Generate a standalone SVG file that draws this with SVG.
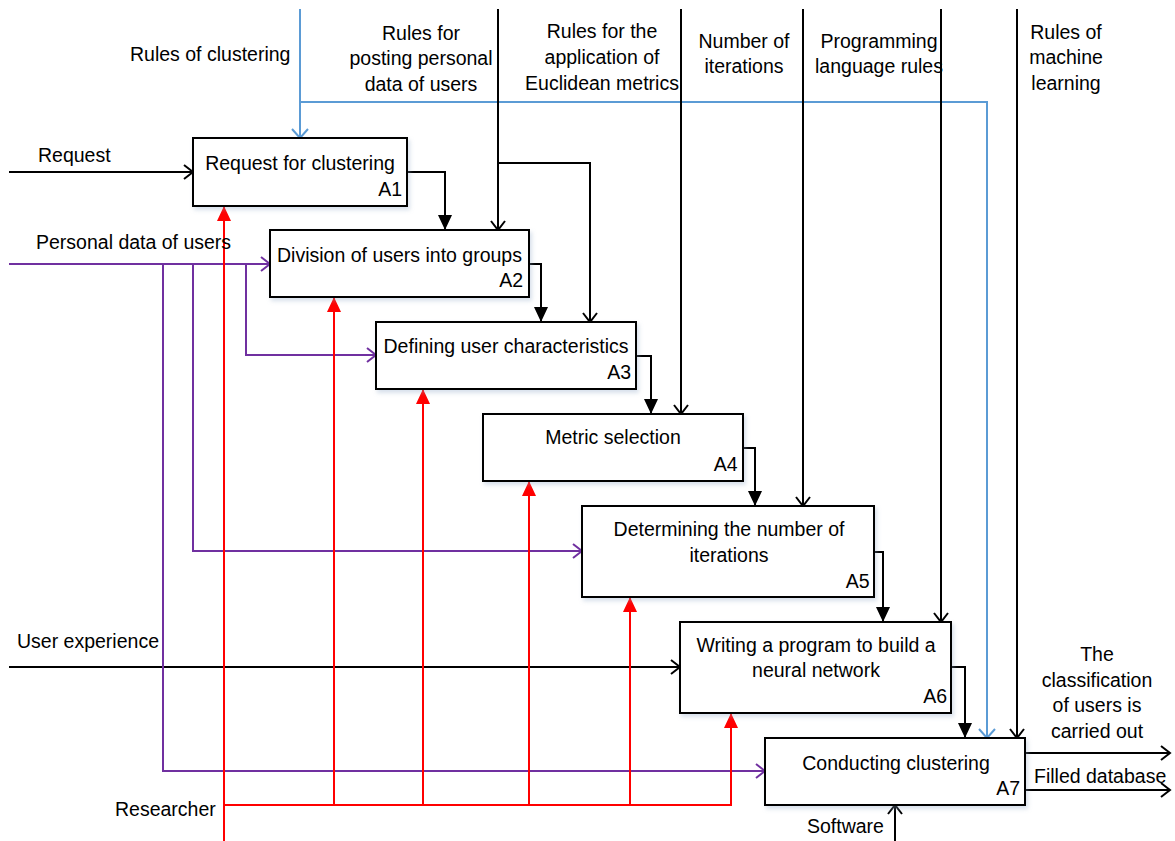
<svg xmlns="http://www.w3.org/2000/svg" width="1175" height="841" viewBox="0 0 1175 841">
<style>
text{font-family:"Liberation Sans",Arial,sans-serif;font-size:19.5px;fill:#000}
.c{text-anchor:middle}
.e{text-anchor:end}
.box{fill:#fff;stroke:#000;stroke-width:2;filter:url(#sh)}
.k{fill:none;stroke:#000;stroke-width:2}
.r{fill:none;stroke:#f00;stroke-width:2}
.p{fill:none;stroke:#7030a0;stroke-width:2}
.b{fill:none;stroke:#5b9bd5;stroke-width:2}
</style>
<defs>
<filter id="sh" x="-10%" y="-10%" width="130%" height="130%">
<feDropShadow dx="2" dy="3" stdDeviation="2" flood-color="#8fa6c6" flood-opacity="0.35"/>
</filter>
<marker id="fk" markerUnits="userSpaceOnUse" viewBox="0 0 15 14" refX="15" refY="7" markerWidth="15" markerHeight="14" orient="auto"><path d="M0,0 L15,7 L0,14 Z" fill="#000"/></marker>
<marker id="fr" markerUnits="userSpaceOnUse" viewBox="0 0 15 14" refX="15" refY="7" markerWidth="15" markerHeight="14" orient="auto"><path d="M0,0 L15,7 L0,14 Z" fill="#f00"/></marker>
<marker id="ok" markerUnits="userSpaceOnUse" viewBox="-1 -1 12 16" refX="9" refY="7" markerWidth="12" markerHeight="16" orient="auto"><path d="M0,0 L9,7 L0,14" fill="none" stroke="#000" stroke-width="2"/></marker>
<marker id="op" markerUnits="userSpaceOnUse" viewBox="-1 -1 12 16" refX="9" refY="7" markerWidth="12" markerHeight="16" orient="auto"><path d="M0,0 L9,7 L0,14" fill="none" stroke="#7030a0" stroke-width="2"/></marker>
<marker id="ob" markerUnits="userSpaceOnUse" viewBox="-1 -1 12 18" refX="9" refY="8" markerWidth="12" markerHeight="18" orient="auto"><path d="M0,0 L9,8 L0,16" fill="none" stroke="#5b9bd5" stroke-width="2"/></marker>
</defs>
<rect width="1175" height="841" fill="#fff"/>

<g id="connectors">
<path class="b" d="M300,9 V138" marker-end="url(#ob)"/>
<path class="b" d="M300,102 H987 V738" marker-end="url(#ob)"/>
<path class="k" d="M9,172 H193" marker-end="url(#ok)"/>
<path class="k" d="M407,172 H445 V230" marker-end="url(#fk)"/>
<path class="k" d="M498,9 V230" marker-end="url(#ok)"/>
<path class="k" d="M498,163 H590 V322" marker-end="url(#ok)"/>
<path class="k" d="M529,264 H541 V322" marker-end="url(#fk)"/>
<path class="k" d="M636,356 H651 V414" marker-end="url(#fk)"/>
<path class="k" d="M681,9 V414" marker-end="url(#ok)"/>
<path class="k" d="M743,448 H755 V506" marker-end="url(#fk)"/>
<path class="k" d="M803,9 V506" marker-end="url(#ok)"/>
<path class="k" d="M874,552 H883 V622" marker-end="url(#fk)"/>
<path class="k" d="M941,9 V622" marker-end="url(#ok)"/>
<path class="k" d="M9,667 H680" marker-end="url(#ok)"/>
<path class="k" d="M951,667 H965 V738" marker-end="url(#fk)"/>
<path class="k" d="M1017,9 V738" marker-end="url(#ok)"/>
<path class="k" d="M895,841 V805" marker-end="url(#ok)"/>
<path class="k" d="M1025,753 H1170" marker-end="url(#ok)"/>
<path class="k" d="M1025,790 H1170" marker-end="url(#ok)"/>
<path class="p" d="M9,264 H270" marker-end="url(#op)"/>
<path class="p" d="M163,264 V771 H765" marker-end="url(#op)"/>
<path class="p" d="M193,264 V551 H582" marker-end="url(#op)"/>
<path class="p" d="M246,264 V355 H376" marker-end="url(#op)"/>
<path class="r" d="M224,841 V206" marker-end="url(#fr)"/>
<path class="r" d="M224,805 H731 V713" marker-end="url(#fr)"/>
<path class="r" d="M334,805 V297" marker-end="url(#fr)"/>
<path class="r" d="M423,805 V389" marker-end="url(#fr)"/>
<path class="r" d="M529,805 V481" marker-end="url(#fr)"/>
<path class="r" d="M630,805 V597" marker-end="url(#fr)"/>
</g>

<g id="labels">
<text x="130" y="61">Rules of clustering</text>
<text class="c" x="421" y="40">Rules for</text>
<text class="c" x="421" y="65">posting personal</text>
<text class="c" x="421" y="91">data of users</text>
<text class="c" x="602" y="38">Rules for the</text>
<text class="c" x="602" y="64">application of</text>
<text class="c" x="602" y="90">Euclidean metrics</text>
<text class="c" x="744" y="48">Number of</text>
<text class="c" x="744" y="73">iterations</text>
<text class="c" x="879" y="48">Programming</text>
<text class="c" x="879" y="73">language rules</text>
<text class="c" x="1066" y="39">Rules of</text>
<text class="c" x="1066" y="64">machine</text>
<text class="c" x="1066" y="90">learning</text>
<text x="38" y="162">Request</text>
<text x="36" y="249">Personal data of users</text>
<text x="17" y="648">User experience</text>
<text x="115" y="816">Researcher</text>
<text x="807" y="833">Software</text>
<text class="c" x="1097" y="661">The</text>
<text class="c" x="1097" y="687">classification</text>
<text class="c" x="1097" y="712">of users is</text>
<text class="c" x="1097" y="738">carried out</text>
<text x="1034" y="783">Filled database</text>
</g>

<g id="A1">
<rect class="box" x="193" y="138" width="214" height="68"/>
<text class="c" x="300" y="170">Request for clustering</text>
<text class="e" x="402" y="196">A1</text>
</g>
<g id="A2">
<rect class="box" x="270" y="230" width="259" height="67"/>
<text class="c" x="399.5" y="262">Division of users into groups</text>
<text class="e" x="523" y="287">A2</text>
</g>
<g id="A3">
<rect class="box" x="376" y="322" width="260" height="67"/>
<text class="c" x="506" y="353">Defining user characteristics</text>
<text class="e" x="631" y="379">A3</text>
</g>
<g id="A4">
<rect class="box" x="483" y="414" width="260" height="67"/>
<text class="c" x="613" y="444">Metric selection</text>
<text class="e" x="737.5" y="471">A4</text>
</g>
<g id="A5">
<rect class="box" x="582" y="506" width="292" height="91"/>
<text class="c" x="729" y="536">Determining the number of</text>
<text class="c" x="729" y="562">iterations</text>
<text class="e" x="869.5" y="588">A5</text>
</g>
<g id="A6">
<rect class="box" x="680" y="622" width="271" height="91"/>
<text class="c" x="816" y="652">Writing a program to build a</text>
<text class="c" x="816" y="677">neural network</text>
<text class="e" x="947" y="703">A6</text>
</g>
<g id="A7">
<rect class="box" x="765" y="738" width="260" height="67"/>
<text class="c" x="896" y="770">Conducting clustering</text>
<text class="e" x="1020" y="795">A7</text>
</g>
</svg>
